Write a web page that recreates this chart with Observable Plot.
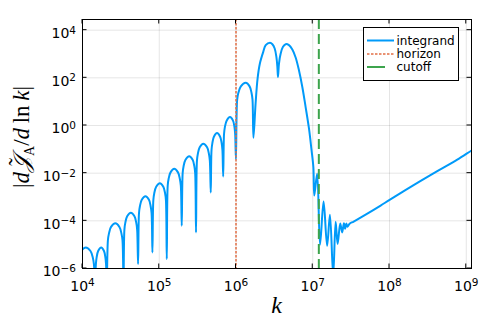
<!DOCTYPE html>
<html><head><meta charset="utf-8">
<script src="https://cdn.jsdelivr.net/npm/d3@7"></script>
<script src="https://cdn.jsdelivr.net/npm/@observablehq/plot@0.6"></script>
<style>
body{margin:0;background:#fff;}
#chart{position:relative;width:491px;height:327px;}
</style></head><body><div id="chart"></div>
<script>
// integrand curve as log10(k) and log10(|dJ/dln k|)
const integrandLogK = [
3.922,3.937,3.952,3.982,4.043,4.104,4.134,4.149,4.164,
4.174,4.184,4.204,4.243,4.280,4.298,4.307,4.316,
4.331,4.345,4.372,4.428,4.481,4.507,4.521,4.534,
4.546,4.558,4.582,4.630,4.677,4.700,4.712,4.724,
4.736,4.748,4.772,4.820,4.866,4.888,4.900,4.911,
4.923,4.935,4.960,5.008,5.053,5.076,5.087,5.098,
5.110,5.122,5.147,5.195,5.244,5.268,5.281,5.293,
5.305,5.317,5.342,5.390,5.435,5.457,5.468,5.479,
5.491,5.503,5.527,5.574,5.623,5.647,5.659,5.671,
5.681,5.692,5.712,5.753,5.793,5.813,5.823,5.833,
5.844,5.855,5.878,5.922,5.961,5.980,5.989,5.999,
6.015,6.031,6.063,6.127,6.177,6.202,6.215,6.227,
6.255,6.281,6.311,6.355,6.387,6.443,6.474,6.504,6.526,6.539,6.547,
6.560,6.582,6.612,6.647,6.690,6.734,6.777,6.820,6.864,6.907,6.951,6.982,7.008,
7.020,7.057,7.095,7.141,7.187,7.224,7.266,7.298,7.324,7.358,7.383,7.406,7.422,7.437,7.451,7.480,
7.533,7.700,7.884,8.001,8.314,8.622,8.883,9.069,9.100
];
const integrandLogY = [
-6.6,-5.826,-5.536,-5.266,-5.116,-5.266,-5.536,-5.826,-6.6,
-5.826,-5.536,-5.266,-5.116,-5.266,-5.536,-5.826,-6.6,
-4.816,-4.526,-4.256,-4.106,-4.256,-4.526,-4.816,-6.6,
-4.366,-4.076,-3.806,-3.656,-3.806,-4.076,-4.366,-5.814,
-3.680,-3.390,-3.120,-2.970,-3.120,-3.390,-3.680,-5.326,
-3.133,-2.843,-2.573,-2.423,-2.573,-2.843,-3.133,-5.604,
-2.527,-2.237,-1.967,-1.817,-1.967,-2.237,-2.527,-4.203,
-1.997,-1.707,-1.437,-1.287,-1.437,-1.707,-1.997,-4.485,
-1.476,-1.186,-0.916,-0.766,-0.916,-1.186,-1.476,-2.815,
-1.030,-0.740,-0.470,-0.320,-0.470,-0.740,-1.030,-2.141,
-0.357,-0.067,0.203,0.353,0.203,-0.067,-0.357,-1.405,
1.082,1.372,1.642,1.792,1.642,1.372,1.082,-0.513,
0.917,1.969,2.600,3.088,3.370,3.467,3.410,3.230,2.878,2.457,2.036,
2.600,3.020,3.300,3.412,3.370,3.190,2.852,2.318,1.616,0.774,-0.135,-0.976,-1.750,
-2.941,-2.028,-5.000,-3.193,-5.044,-3.740,-6.300,-4.034,-4.973,-4.110,-4.485,-4.098,-4.329,-4.110,-4.245,-4.120,
-4.030,-3.720,-3.361,-3.122,-2.503,-1.913,-1.430,-1.048,-0.990
];
const horizonK = 1e6;
const cutoffK = 1.2e7;
const xTicks = [1e4, 1e5, 1e6, 1e7, 1e8, 1e9];
const yTicks = [1e-6, 1e-4, 1e-2, 1e0, 1e2, 1e4];
const seriesNames = ["integrand", "horizon", "cutoff"];
const seriesColors = ["#009af9", "#e26f46", "#3da44d"];

const data = integrandLogK.map((lk, i) => ({k: 10 ** lk, v: 10 ** integrandLogY[i]}));
const expFmt = d => String(Math.round(Math.log10(d))).replace("-", "\u2212");

const plot = Plot.plot({
  width: 491, height: 327,
  marginLeft: 82, marginRight: 20, marginTop: 19, marginBottom: 59,
  x: {type: "log", domain: [1e4, 1.17e9]},
  y: {type: "log", domain: [1e-6, 2.8e4]},
  style: {fontFamily: "DejaVu Sans", fontSize: "14px", background: "white", color: "black"},
  marks: [
    Plot.gridX(xTicks, {stroke: "#000", strokeOpacity: 0.1, strokeWidth: 1}),
    Plot.gridY(yTicks, {stroke: "#000", strokeOpacity: 0.1, strokeWidth: 1}),
    Plot.line(data, {x: "k", y: "v", stroke: seriesColors[0], strokeWidth: 2, curve: "catmull-rom", clip: true}),
    Plot.ruleX([horizonK], {stroke: seriesColors[1], strokeWidth: 1.5, strokeDasharray: "2.5,1.5"}),
    Plot.ruleX([cutoffK], {stroke: seriesColors[2], strokeWidth: 2, strokeDasharray: "10,5"}),
    Plot.axisX({ticks: xTicks, tickSize: 0, tickPadding: 12.4, tickFormat: expFmt, label: null, fontSize: 14}),
    Plot.axisY({ticks: yTicks, tickSize: 0, tickPadding: 6.5, dy: 3.5, tickFormat: expFmt, label: null, fontSize: 14}),
    Plot.frame({stroke: "black", strokeWidth: 1})
  ]
});
document.getElementById("chart").appendChild(plot);

const svg = d3.select(plot);
// superscript exponents on tick labels
svg.selectAll('g[aria-label="x-axis tick label"] text, g[aria-label="y-axis tick label"] text').each(function () {
  const e = this.textContent;
  const t = d3.select(this);
  t.text("10");
  t.append("tspan").attr("dy", "-0.42em").attr("font-size", "10.5px").text(e);
});

// inward tick marks on all four sides
const sx = plot.scale("x"), sy = plot.scale("y");
const L = 82, R = 471, T = 19, B = 268, tl = 4.5;
const tg = svg.append("g").attr("stroke", "black").attr("stroke-width", 1);
xTicks.forEach(v => {
  const x = sx.apply(v);
  tg.append("line").attr("x1", x).attr("x2", x).attr("y1", B).attr("y2", B - tl);
  tg.append("line").attr("x1", x).attr("x2", x).attr("y1", T).attr("y2", T + tl);
});
yTicks.forEach(v => {
  const y = sy.apply(v);
  tg.append("line").attr("x1", L).attr("x2", L + tl).attr("y1", y).attr("y2", y);
  tg.append("line").attr("x1", R).attr("x2", R - tl).attr("y1", y).attr("y2", y);
});

// axis labels
svg.append("text").attr("x", (L + R) / 2).attr("y", 313).attr("text-anchor", "middle")
  .attr("font-family", "Liberation Serif").attr("font-style", "italic").attr("font-size", 24).text("k");
const ylg = svg.append("g").attr("transform", `translate(29,137) rotate(-90)`)
  .attr("font-family", "Liberation Serif").attr("font-size", 23);
const yl = ylg.append("text").attr("text-anchor", "middle");
yl.append("tspan").text("|");
yl.append("tspan").attr("font-style", "italic").text("d");
const jt = yl.append("tspan").attr("font-style", "italic").text("\u{1D4A5}");
yl.append("tspan").attr("font-size", 14).attr("dy", 5).text("A");
yl.append("tspan").attr("dy", -5).text("/");
yl.append("tspan").attr("font-style", "italic").text("d");
yl.append("tspan").text("\u2009ln\u2009");
yl.append("tspan").attr("font-style", "italic").text("k");
yl.append("tspan").text("|");
try {
  const n = jt.node();
  const a = n.getStartPositionOfChar(0), b = n.getEndPositionOfChar(0);
  ylg.append("text").attr("text-anchor", "middle").attr("x", (a.x + b.x) / 2 + 2).attr("y", a.y - 4)
    .text("\u02DC");
} catch (e) {}

// legend
const lg = svg.append("g").attr("font-family", "DejaVu Sans").attr("font-size", 12).attr("text-anchor", "start");
lg.append("rect").attr("x", 363.5).attr("y", 27.5).attr("width", 95).attr("height", 53)
  .attr("fill", "white").attr("stroke", "black").attr("stroke-width", 1);
const ly = [40.5, 54, 67];
const ldash = [null, "2.5,1.5", null];
const lw = [2, 1.5, 2];
const lx2 = [394, 394, 385];
seriesNames.forEach((n, i) => {
  lg.append("line").attr("x1", 367).attr("x2", lx2[i]).attr("y1", ly[i]).attr("y2", ly[i])
    .attr("stroke", seriesColors[i]).attr("stroke-width", lw[i]).attr("stroke-dasharray", ldash[i]);
  lg.append("text").attr("x", 396.5).attr("y", ly[i] + 4).attr("text-anchor", "start").text(n);
});
</script></body></html>
